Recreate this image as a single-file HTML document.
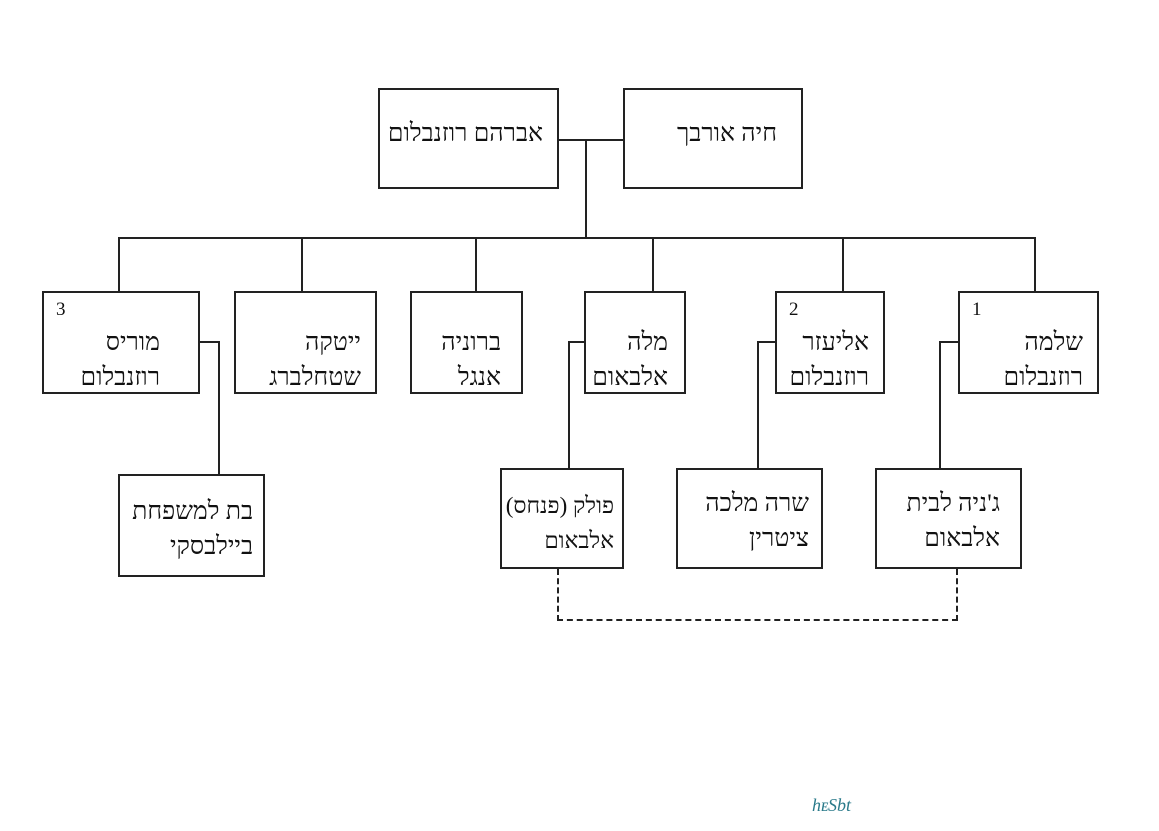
<!DOCTYPE html>
<html><head><meta charset="utf-8"><style>
body{margin:0;width:1159px;height:831px;background:#fff;position:relative;overflow:hidden;font-family:"Liberation Serif","DejaVu Serif",serif;}
.b{position:absolute;border:2px solid #222;box-sizing:border-box;background:#fff;}
.t{position:absolute;right:14px;top:32px;direction:rtl;text-align:right;font-size:25px;line-height:35px;color:#111;white-space:nowrap;}
.n{position:absolute;left:12px;top:6px;font-size:19px;color:#111;}
.h{position:absolute;height:0;border-top:2px solid #222;}
.v{position:absolute;width:0;border-left:2px solid #222;}
</style></head><body>
<div class="b" style="left:378px;top:88px;width:181px;height:101px"><div class="t" style="top:26px">אברהם רוזנבלום</div></div>
<div class="b" style="left:623px;top:88px;width:180px;height:101px"><div class="t" style="top:26px;right:24px">חיה אורבך</div></div>
<div class="h" style="left:559px;top:139px;width:64px"></div>
<div class="v" style="left:585px;top:139px;height:98px"></div>
<div class="h" style="left:118px;top:237px;width:917px"></div>
<div class="v" style="left:118px;top:237px;height:54px"></div>
<div class="v" style="left:301px;top:237px;height:54px"></div>
<div class="v" style="left:475px;top:237px;height:54px"></div>
<div class="v" style="left:652px;top:237px;height:54px"></div>
<div class="v" style="left:842px;top:237px;height:54px"></div>
<div class="v" style="left:1034px;top:237px;height:54px"></div>

<div class="b" style="left:42px;top:291px;width:158px;height:103px"><div class="n">3</div><div class="t" style="right:38px">מוריס<br>רוזנבלום</div></div>
<div class="b" style="left:234px;top:291px;width:143px;height:103px"><div class="t">ייטקה<br>שטחלברג</div></div>
<div class="b" style="left:410px;top:291px;width:113px;height:103px"><div class="t" style="right:20px">ברוניה<br>אנגל</div></div>
<div class="b" style="left:584px;top:291px;width:102px;height:103px"><div class="t" style="right:16px">מלה<br>אלבאום</div></div>
<div class="b" style="left:775px;top:291px;width:110px;height:103px"><div class="n">2</div><div class="t" style="right:14px">אליעזר<br>רוזנבלום</div></div>
<div class="b" style="left:958px;top:291px;width:141px;height:103px"><div class="n">1</div><div class="t" style="right:14px">שלמה<br>רוזנבלום</div></div>

<div class="h" style="left:200px;top:341px;width:18px"></div>
<div class="v" style="left:218px;top:341px;height:134px"></div>
<div class="h" style="left:568px;top:341px;width:16px"></div>
<div class="v" style="left:568px;top:341px;height:127px"></div>
<div class="h" style="left:757px;top:341px;width:18px"></div>
<div class="v" style="left:757px;top:341px;height:127px"></div>
<div class="h" style="left:939px;top:341px;width:19px"></div>
<div class="v" style="left:939px;top:341px;height:127px"></div>

<div class="b" style="left:118px;top:474px;width:147px;height:103px"><div class="t" style="top:18px;right:10px">בת למשפחת<br>ביילבסקי</div></div>
<div class="b" style="left:500px;top:468px;width:124px;height:101px"><div class="t" style="top:18px;right:8px;font-size:23px">פולק (פנחס)<br>אלבאום</div></div>
<div class="b" style="left:676px;top:468px;width:147px;height:101px"><div class="t" style="top:16px;right:12px">שרה מלכה<br>ציטרין</div></div>
<div class="b" style="left:875px;top:468px;width:147px;height:101px"><div class="t" style="top:16px;right:20px">ג'ניה לבית<br>אלבאום</div></div>

<div style="position:absolute;left:557px;top:569px;width:401px;height:52px;border:2px dashed #222;border-top:none;box-sizing:border-box"></div>
<div style="position:absolute;left:812px;top:795px;color:#2a7a8a;font-size:18px;font-style:italic">h&#x1D07;Sbt</div>
</body></html>
